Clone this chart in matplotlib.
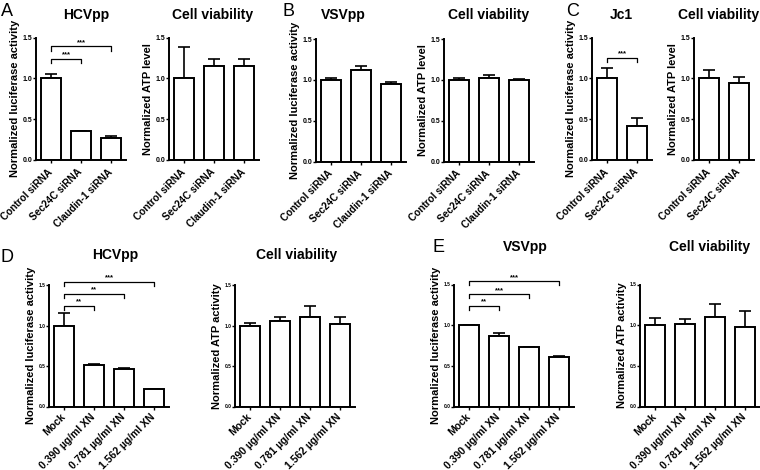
import numpy as np
import matplotlib
matplotlib.use('Agg')
import matplotlib.pyplot as plt
from matplotlib.transforms import ScaledTranslation

plt.rcParams['font.family'] = ['Liberation Sans', 'DejaVu Sans']

# data
si_labels = ['Control siRNA', 'Sec24C siRNA', 'Claudin-1 siRNA']
hcv_si = [1.0, 0.35, 0.27]
hcv_si_err = [0.05, 0.01, 0.02]
hcv_si_atp = [1.0, 1.145, 1.145]
hcv_si_atp_err = [0.38, 0.095, 0.095]
vsv_si = [1.0, 1.12, 0.95]
vsv_si_err = [0.02, 0.05, 0.02]
vsv_si_atp = [1.0, 1.02, 1.0]
vsv_si_atp_err = [0.02, 0.04, 0.005]

jc1_labels = ['Control siRNA', 'Sec24C siRNA']
jc1 = [1.0, 0.42]
jc1_err = [0.13, 0.09]
jc1_atp = [1.0, 0.94]
jc1_atp_err = [0.10, 0.08]

xn_labels = ['Mock', '0.390 µg/ml XN', '0.781 µg/ml XN', '1.562 µg/ml XN']
hcv_xn = [1.0, 0.51, 0.46, 0.22]
hcv_xn_err = [0.15, 0.01, 0.01, 0.0]
hcv_xn_atp = [1.0, 1.055, 1.10, 1.02]
hcv_xn_atp_err = [0.03, 0.045, 0.14, 0.08]
vsv_xn = [1.0, 0.866, 0.728, 0.613]
vsv_xn_err = [0.0, 0.035, 0.008, 0.003]
vsv_xn_atp = [1.0, 1.01, 1.095, 0.98]
vsv_xn_atp_err = [0.09, 0.06, 0.16, 0.20]

sig_A = [(0, 1, 1.24, '***'), (0, 2, 1.39, '***')]
sig_C = [(0, 1, 1.255, '***')]
sig_D = [(0, 1, 1.24, '**'), (0, 2, 1.39, '**'), (0, 3, 1.54, '***')]
sig_E = [(0, 1, 1.235, '**'), (0, 2, 1.38, '***'), (0, 3, 1.54, '***')]

W, H = 760, 470
fig = plt.figure(figsize=(W/100, H/100), dpi=100)


def panel(x0, y_top, y_bot, labels, vals, errs, title, title_xy, ylabel,
          sig=None, small=False):
    n = len(labels)
    ax = fig.add_axes([x0/W, 1 - y_bot/H, 30*n/W, (y_bot - y_top)/H])
    x = np.arange(n)
    ax.bar(x, vals, width=0.68, color='white', edgecolor='black', lw=1.4,
           zorder=2)
    ax.errorbar(x, vals, yerr=[np.zeros(n), errs], fmt='none', ecolor='black',
                elinewidth=1.2, capsize=4, capthick=1.2, zorder=1)
    ax.set_xlim(-0.5, n - 0.5)
    ax.set_ylim(0, 1.5)
    ax.set_yticks([0, 0.5, 1.0, 1.5])
    ax.set_yticklabels(['0.0', '0.5', '1.0', '1.5'], fontweight='bold')
    ax.set_xticks(x)
    ax.set_xticklabels(labels, rotation=45, ha='right', va='center',
                       rotation_mode='anchor', fontsize=7.5 if small else 7.2,
                       fontweight='bold')
    shift = ScaledTranslation(3/72, 0, fig.dpi_scale_trans)
    for lab in ax.get_xticklabels():
        lab.set_transform(lab.get_transform() + shift)
    ax.tick_params(axis='y', labelsize=3.5 if small else 5, length=2,
                   width=1, pad=0.5)
    ax.tick_params(axis='x', length=2, width=1, pad=4.5 if small else 5.5)
    for s in ['top', 'right']:
        ax.spines[s].set_visible(False)
    for s in ['left', 'bottom']:
        ax.spines[s].set_linewidth(1.4)
    ax.set_ylabel(ylabel, fontsize=8, fontweight='bold', labelpad=2)
    fig.text(title_xy[0]/W, 1 - title_xy[1]/H, title, fontsize=10,
             fontweight='bold', ha='center', va='center')
    if sig:
        for i, j, y, t in sig:
            ax.plot([i, i, j, j], [y - 0.05, y, y, y - 0.05], color='black',
                    lw=0.9, clip_on=False)
            ax.text((i + j)/2, y + 0.005, t, ha='center', va='bottom',
                    fontsize=5.5, fontweight='bold')
    return ax


panel(36, 37.5, 160, si_labels, hcv_si, hcv_si_err, 'HCVpp', (86, 15),
      'Normalized luciferase activity', sig_A)
panel(169, 37.5, 160, si_labels, hcv_si_atp, hcv_si_atp_err, 'Cell viability',
      (213, 15), 'Normalized ATP level')
panel(316, 39, 161.5, si_labels, vsv_si, vsv_si_err, 'VSVpp', (343, 15),
      'Normalized luciferase activity')
panel(444, 39, 161.5, si_labels, vsv_si_atp, vsv_si_atp_err, 'Cell viability',
      (489, 15), 'Normalized ATP level')
panel(592, 37.5, 160, jc1_labels, jc1, jc1_err, 'Jc1', (621, 15),
      'Normalized luciferase activity', sig_C)
panel(694, 37.5, 160, jc1_labels, jc1_atp, jc1_atp_err, 'Cell viability',
      (719, 15), 'Normalized ATP level')

panel(49, 285, 406.5, xn_labels, hcv_xn, hcv_xn_err, 'HCVpp', (115, 255),
      'Normalized luciferase activity', sig_D, small=True)
panel(235, 285, 406.5, xn_labels, hcv_xn_atp, hcv_xn_atp_err, 'Cell viability',
      (297, 255), 'Normalized ATP activity', small=True)
panel(454, 284.5, 406.5, xn_labels, vsv_xn, vsv_xn_err, 'VSVpp', (525, 247),
      'Normalized luciferase activity', sig_E, small=True)
panel(640, 284.5, 406.5, xn_labels, vsv_xn_atp, vsv_xn_atp_err,
      'Cell viability', (710, 247), 'Normalized ATP activity', small=True)

for lab, x, y in [('A', 1, 12), ('B', 283, 12), ('C', 566, 12),
                  ('D', 1, 257), ('E', 432, 247)]:
    fig.text(x/W, 1 - y/H, lab, fontsize=13, ha='left', va='center')

fig.savefig('out.png', dpi=100)
